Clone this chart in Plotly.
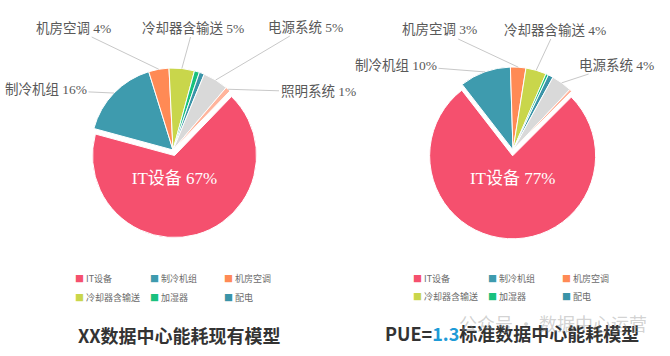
import math
import plotly.graph_objects as go

W, H = 670, 356

# ---------------- data ----------------
categories = ["IT设备", "制冷机组", "机房空调", "冷却器含输送", "加湿器", "配电", "电源系统", "照明系统"]
current_values = [67, 16, 4, 5, 1, 1, 5, 1]          # XX数据中心能耗现有模型
standard_values = [77, 10, 3, 4, 0.5, 1, 4, 0.5]     # PUE=1.3标准数据中心能耗模型
legend_categories = ["IT设备", "制冷机组", "机房空调", "冷却器含输送", "加湿器", "配电"]
colors = ["#F5506E", "#3E9BAE", "#FF8A55", "#C9D64B", "#19C17E", "#3A94A8", "#D9D9D9", "#FFB49C"]
left_title = "XX数据中心能耗现有模型"
right_title_parts = ["PUE=", "1.3", "标准数据中心能耗模型"]
watermark = "公众号 · 数据中心运营"

# ---------------- layout (pixels) ----------------
FONT_LAB = "Liberation Serif, Noto Sans CJK SC, serif"
FONT_CJK = "Noto Sans CJK SC, sans-serif"

charts = [
    dict(values=current_values, cx=173, cy=150, r=82, rot=44, pull=0.07,
         labels={"制冷机组": (46, 90), "机房空调": (73, 28), "冷却器含输送": (193, 28),
                 "电源系统": (305, 27), "照明系统": (318, 92)},
         legend_x=73, legend_y=(278, 297), title_xy=(179, 335)),
    dict(values=standard_values, cx=513, cy=150, r=83, rot=45, pull=0.07,
         labels={"制冷机组": (396, 65), "机房空调": (439, 30), "冷却器含输送": (555, 30),
                 "电源系统": (616, 65)},
         legend_x=411, legend_y=(278, 296), title_xy=(512, 333)),
]

fig = go.Figure()
annotations = []


def px(x):
    return x / W


def py(y):
    return 1 - y / H


for ch in charts:
    vals = ch["values"]
    cx, cy, r, pull = ch["cx"], ch["cy"], ch["r"], ch["pull"]
    half = r * (1 + pull)
    total = sum(vals)
    n = len(vals)
    fig.add_trace(go.Pie(
        labels=categories, values=vals, sort=False, direction="clockwise",
        rotation=ch["rot"], pull=[pull] + [0] * (n - 1),
        marker=dict(colors=colors, line=dict(color="white", width=1)),
        text=[f"{categories[0]} {vals[0]:g}%"] + [""] * (n - 1),
        textinfo="text", textposition=["inside"] + ["none"] * (n - 1),
        insidetextorientation="horizontal",
        insidetextfont=dict(color="white", size=17, family=FONT_LAB),
        domain=dict(x=[px(cx - half), px(cx + half)], y=[py(cy + half), py(cy - half)]),
        showlegend=False, hoverinfo="label+percent",
    ))
    # outside labels with leader lines, anchored on slice mid-angle
    cum = 0
    for cat, v in zip(categories, vals):
        mid = math.radians(ch["rot"] + 360 * (cum + v / 2) / total)
        cum += v
        if cat not in ch["labels"]:
            continue
        ex, ey = cx + r * math.sin(mid), cy - r * math.cos(mid)
        lx, ly = ch["labels"][cat]
        annotations.append(dict(
            x=px(ex), y=py(ey), xref="paper", yref="paper",
            ax=lx - ex, ay=ly - ey, showarrow=True, arrowhead=0, arrowwidth=1,
            arrowcolor="#C8C8C8", text=f"{cat} {v:g}%", xanchor="center", yanchor="middle",
            font=dict(family=FONT_LAB, size=13.5, color="#595959"),
        ))
    # legend (custom, 3 columns x 2 rows)
    for i, cat in enumerate(legend_categories):
        row, col = divmod(i, 3)
        annotations.append(dict(
            x=px(ch["legend_x"] + col * 74.5), y=py(ch["legend_y"][row]),
            xref="paper", yref="paper", xanchor="left", yanchor="middle", showarrow=False,
            text=f"<span style='color:{colors[categories.index(cat)]}'>■</span> {cat}",
            font=dict(family=FONT_CJK, size=9, color="#6b6b6b"),
        ))

# titles
annotations.append(dict(
    x=px(charts[0]["title_xy"][0]), y=py(charts[0]["title_xy"][1]), xref="paper", yref="paper",
    xanchor="center", yanchor="middle", showarrow=False, text=f"<b>{left_title}</b>",
    font=dict(family=FONT_CJK, size=18, color="#333333"),
))
annotations.append(dict(
    x=px(charts[1]["title_xy"][0]), y=py(charts[1]["title_xy"][1]), xref="paper", yref="paper",
    xanchor="center", yanchor="middle", showarrow=False,
    text=(f"<b>{right_title_parts[0]}<span style='color:#1E9BD7'>{right_title_parts[1]}</span>"
          f"{right_title_parts[2]}</b>"),
    font=dict(family=FONT_CJK, size=18, color="#333333"),
))
# watermark (faint overlay, as in the source image)
annotations.append(dict(
    x=px(553), y=py(323), xref="paper", yref="paper", xanchor="center", yanchor="middle",
    showarrow=False, text=watermark,
    font=dict(family=FONT_CJK, size=18, color="rgba(140,140,140,0.4)"),
))

fig.update_layout(
    width=W, height=H, margin=dict(l=0, r=0, t=0, b=0),
    paper_bgcolor="white", plot_bgcolor="white",
    annotations=annotations, showlegend=False,
)

fig.write_html(
    "out.html",
    config={"displayModeBar": False},
    post_script="document.body.style.margin='0';document.body.style.padding='0';",
)
